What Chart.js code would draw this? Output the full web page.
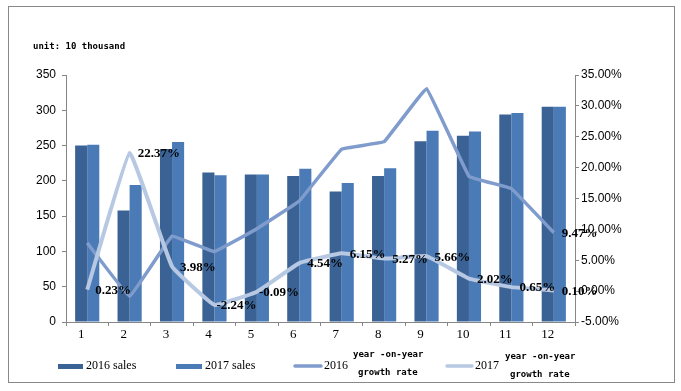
<!DOCTYPE html>
<html>
<head>
<meta charset="utf-8">
<script src="https://cdn.jsdelivr.net/npm/chart.js@4.4.1/dist/chart.umd.min.js"></script>
<style>
  html, body { margin: 0; padding: 0; background: #fff; }
  #wrap { width: 681px; height: 391px; }
</style>
</head>
<body>
<div id="wrap"><canvas id="chart" width="681" height="391"></canvas></div>
<script>
var months = ['1', '2', '3', '4', '5', '6', '7', '8', '9', '10', '11', '12'];
var sales2016 = [250, 158, 245, 212, 209, 207, 185, 207, 256, 264, 294, 305];
var sales2017 = [251, 194, 255, 208, 209, 217, 197, 218, 271, 270, 296, 305];
var growth2016 = [7.8, -0.85, 8.9, 6.4, 10.1, 14.6, 23.0, 24.2, 32.8, 18.6, 16.6, 9.47];
var growth2017 = [0.23, 22.37, 3.98, -2.24, -0.09, 4.54, 6.15, 5.27, 5.66, 2.02, 0.65, 0.10];
var pointLabels2016 = ['', '', '', '', '', '', '', '', '', '', '', '9.47%'];
var pointLabels2017 = ['0.23%', '22.37%', '3.98%', '-2.24%', '-0.09%', '4.54%', '6.15%', '5.27%', '5.66%', '2.02%', '0.65%', '0.10%'];
var unitText = 'unit: 10 thousand';

var colBar16 = '#3b6295';
var colBar17 = '#4a7bb7';
var colLine16 = '#7f9ccc';
var colLine17 = '#b7c8e2';
var axisGray = '#868686';

// frame, unit text and the custom legend
var decorPlugin = {
    id: 'decor',
    beforeDraw: function(chart) {
        var ctx = chart.ctx;
        ctx.save();
        ctx.fillStyle = '#fff';
        ctx.fillRect(0, 0, chart.width, chart.height);
        ctx.strokeStyle = '#888';
        ctx.lineWidth = 1;
        ctx.strokeRect(8.5, 6.5, 666, 376);
        ctx.restore();
    },
    afterDraw: function(chart) {
        var ctx = chart.ctx;
        ctx.save();
        ctx.fillStyle = '#000';
        ctx.textBaseline = 'middle';
        ctx.font = 'bold 9px "DejaVu Sans Mono"';
        ctx.fillText(unitText, 33, 47);

        // legend
        ctx.font = '12px "Liberation Serif"';
        ctx.fillStyle = colBar16;
        ctx.fillRect(58, 364, 25, 5);
        ctx.fillStyle = '#000';
        ctx.fillText('2016 sales', 86, 366);

        ctx.fillStyle = colBar17;
        ctx.fillRect(176, 364, 26, 5);
        ctx.fillStyle = '#000';
        ctx.fillText('2017 sales', 205, 366);

        ctx.lineWidth = 3.5;
        ctx.lineCap = 'round';
        ctx.strokeStyle = colLine16;
        ctx.beginPath(); ctx.moveTo(295, 366); ctx.lineTo(321, 366); ctx.stroke();
        ctx.fillStyle = '#000';
        ctx.fillText('2016', 324, 366);
        ctx.strokeStyle = colLine17;
        ctx.beginPath(); ctx.moveTo(447, 366); ctx.lineTo(472, 366); ctx.stroke();
        ctx.fillText('2017', 475, 366);

        ctx.font = 'bold 9px "DejaVu Sans Mono"';
        ctx.fillText('year -on-year', 353, 355);
        ctx.fillText('growth rate', 358, 373);
        ctx.fillText('year -on-year', 505, 357);
        ctx.fillText('growth rate', 510, 375);
        ctx.restore();
    }
};

// percentage labels right of the line points
var pointLabelPlugin = {
    id: 'pointLabels',
    afterDatasetsDraw: function(chart) {
        var ctx = chart.ctx;
        ctx.save();
        ctx.font = 'bold 13px "Liberation Serif"';
        ctx.fillStyle = '#000';
        ctx.textAlign = 'left';
        ctx.textBaseline = 'middle';
        chart.data.datasets.forEach(function(ds, di) {
            if (!ds.pointText) return;
            var meta = chart.getDatasetMeta(di);
            meta.data.forEach(function(pt, i) {
                var txt = ds.pointText[i];
                if (!txt) return;
                var dx = txt.charAt(0) == '-' ? 2 : 8;
                ctx.fillText(txt, pt.x + dx, pt.y + 1);
            });
        });
        ctx.restore();
    }
};

Chart.defaults.font.family = '"Liberation Sans", Arial, sans-serif';
Chart.defaults.font.size = 12;
Chart.defaults.color = '#000';

var ctx = document.getElementById('chart').getContext('2d');
var chart = new Chart(ctx, {
    type: 'bar',
    data: {
        labels: months,
        datasets: [{
            type: 'line',
            label: '2017 year -on-year growth rate',
            data: growth2017,
            yAxisID: 'y1',
            borderColor: colLine17,
            borderWidth: 4,
            pointRadius: 0,
            tension: 0.08,
            pointText: pointLabels2017,
            order: 0
        }, {
            type: 'line',
            label: '2016 year -on-year growth rate',
            data: growth2016,
            yAxisID: 'y1',
            borderColor: colLine16,
            borderWidth: 3.5,
            pointRadius: 0,
            tension: 0.05,
            pointText: pointLabels2016,
            order: 1
        }, {
            label: '2016 sales',
            data: sales2016,
            yAxisID: 'y',
            backgroundColor: colBar16,
            barPercentage: 1,
            categoryPercentage: 0.57,
            order: 2
        }, {
            label: '2017 sales',
            data: sales2017,
            yAxisID: 'y',
            backgroundColor: colBar17,
            barPercentage: 1,
            categoryPercentage: 0.57,
            order: 2
        }]
    },
    options: {
        responsive: false,
        animation: false,
        devicePixelRatio: 1,
        layout: { padding: { top: 75, left: 0, right: 0, bottom: 0 } },
        plugins: {
            legend: { display: false },
            tooltip: { enabled: false },
            title: { display: false }
        },
        scales: {
            x: {
                offset: true,
                grid: { offset: true, drawOnChartArea: false, tickLength: 4, color: axisGray },
                border: { color: axisGray },
                ticks: { font: { family: '"Liberation Serif"', size: 13 }, padding: 1, labelOffset: -6 },
                afterFit: function(scale) { scale.height = 69; }
            },
            y: {
                position: 'left',
                min: 0,
                max: 350,
                grid: { drawOnChartArea: false, tickLength: 4, color: axisGray },
                border: { color: axisGray },
                ticks: { stepSize: 50, padding: 6 },
                afterFit: function(scale) { scale.width = 66; }
            },
            y1: {
                position: 'right',
                min: -5,
                max: 35,
                grid: { drawOnChartArea: false, tickLength: 4, color: axisGray },
                border: { color: axisGray },
                ticks: {
                    stepSize: 5,
                    padding: 2,
                    callback: function(v) { return v.toFixed(2) + '%'; }
                },
                afterFit: function(scale) { scale.width = 106; }
            }
        }
    },
    plugins: [decorPlugin, pointLabelPlugin]
});
</script>
</body>
</html>
